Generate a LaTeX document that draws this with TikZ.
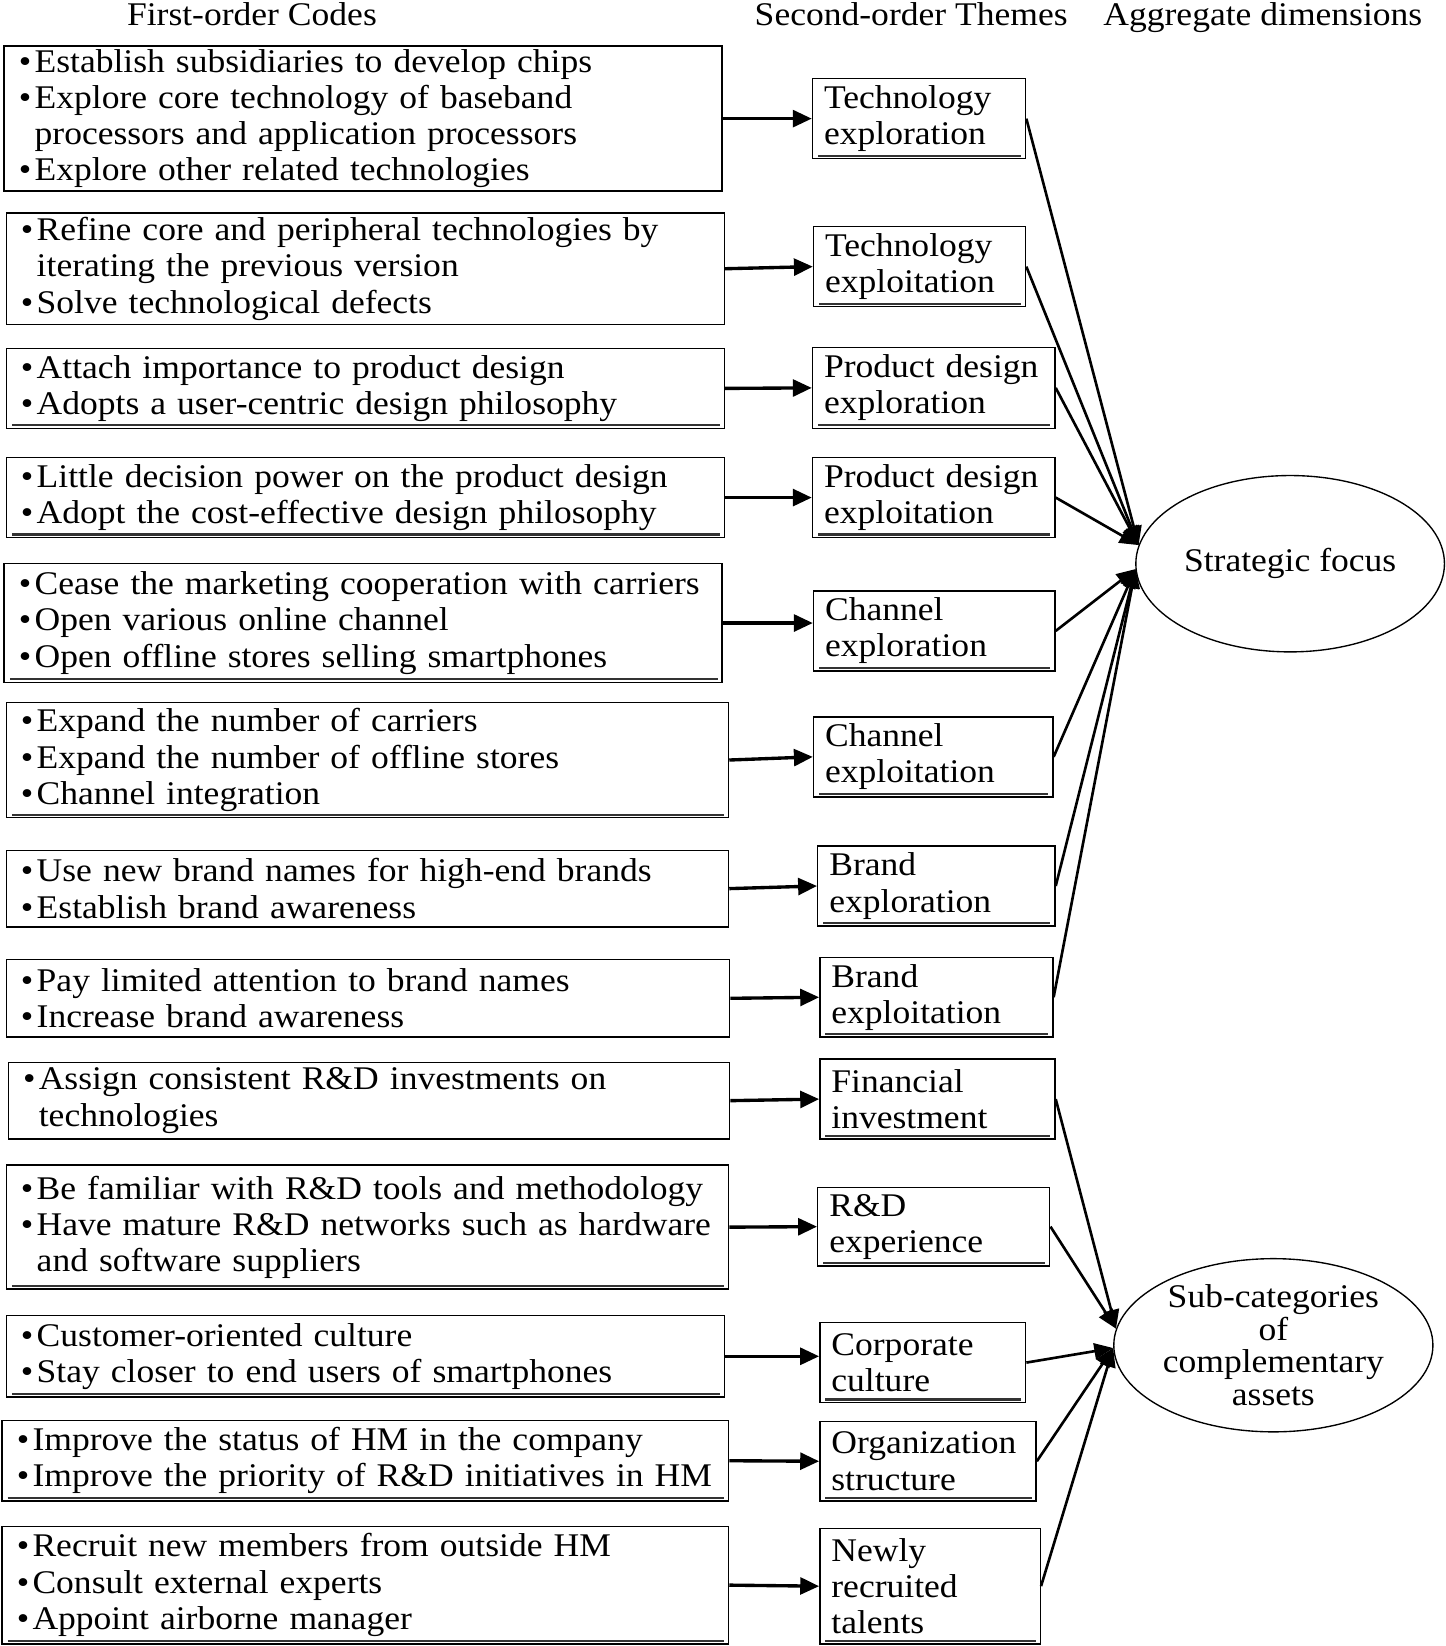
\documentclass[tikz,border=0pt]{standalone}
\usepackage{fontspec}
\setmainfont{Liberation Serif}[FakeStretch=1.075]
\usetikzlibrary{arrows.meta,shapes.geometric}
\newcommand\tfont{\fontsize{31.5}{34.5}\selectfont}
\newcommand\bi[1]{\mbox{\makebox[15pt][l]{•}#1}}
\newcommand\ci[1]{\mbox{\hspace*{15pt}#1}}
\newcommand\boxnode[8]{%
  \pgfmathsetmacro\bxc{(#2+#4)/2}%
  \pgfmathsetmacro\byc{(#3+#5)/2}%
  \pgfmathsetmacro\bw{#4-#2}%
  \pgfmathsetmacro\bh{#5-#3}%
  \pgfmathsetmacro\btw{#4-#2-2*#6}%
  \node[#7, inner xsep=#6pt, minimum width=\bw pt, minimum height=\bh pt, text width=\btw pt] (#1) at (\bxc,\byc) {#8};}
\newcommand\uline[1]{\draw[inl] ([xshift=6pt,yshift=3.5pt]#1.south west) -- ([xshift=-5pt,yshift=3.5pt]#1.south east);}
\tikzset{
 bx/.style={draw, line width=1.4pt, inner ysep=0pt, align=left, font=\tfont},
 ell/.style={draw, ellipse, line width=1.3pt, inner sep=0pt, align=center, font=\tfont},
 inl/.style={line width=2pt, black!80},
 lar/.style={line width=3.2pt, -{Triangle[length=18pt,width=16pt]}},
 rar/.style={line width=2.5pt, -{Triangle[length=18pt,width=15pt]}},
 hdr/.style={font=\tfont, anchor=base, inner sep=0pt},
}
\begin{document}
\begin{tikzpicture}[x=1pt,y=-1pt]
\useasboundingbox (0,0) rectangle (1377,1568);
% headers
\node[hdr] (h1) at (240,24) {First-order Codes};
\node[hdr] (h2) at (868,24) {Second-order Themes};
\node[hdr] (h3) at (1203,24) {Aggregate dimensions};
% first-order boxes
\boxnode{l1}{4}{44}{688}{182}{14}{bx}{\bi{Establish subsidiaries to develop chips}\\\bi{Explore core technology of baseband}\\\ci{processors and application processors}\\\bi{Explore other related technologies}}
\boxnode{l2}{6}{203}{690}{309}{14}{bx}{\bi{Refine core and peripheral technologies by}\\\ci{iterating the previous version}\\\bi{Solve technological defects}}
\boxnode{l3}{6}{332}{690}{408}{14}{bx}{\bi{Attach importance to product design}\\\bi{Adopts a user-centric design philosophy}}
\boxnode{l4}{6}{436}{690}{512}{14}{bx}{\bi{Little decision power on the product design}\\\bi{Adopt the cost-effective design philosophy}}
\boxnode{l5}{4}{537}{688}{650}{14}{bx}{\bi{Cease the marketing cooperation with carriers}\\\bi{Open various online channel}\\\bi{Open offline stores selling smartphones}}
\boxnode{l6}{6}{669}{694}{779}{14}{bx}{\bi{Expand the number of carriers}\\\bi{Expand the number of offline stores}\\\bi{Channel integration}}
\boxnode{l7}{6}{810}{694}{883}{14}{bx}{\bi{Use new brand names for high-end brands}\\\bi{Establish brand awareness}}
\boxnode{l8}{6}{914}{695}{988}{14}{bx}{\bi{Pay limited attention to brand names}\\\bi{Increase brand awareness}}
\boxnode{l9}{8}{1012}{695}{1085}{14}{bx}{\bi{Assign consistent R\&D investments on}\\\ci{technologies}}
\boxnode{l10}{6}{1110}{694}{1228}{14}{bx}{\bi{Be familiar with R\&D tools and methodology}\\\bi{Have mature R\&D networks such as hardware}\\\ci{and software suppliers}}
\boxnode{l11}{6}{1253}{690}{1331}{14}{bx}{\bi{Customer-oriented culture}\\\bi{Stay closer to end users of smartphones}}
\boxnode{l12}{2}{1353}{694}{1430}{14}{bx}{\bi{Improve the status of HM in the company}\\\bi{Improve the priority of R\&D initiatives in HM}}
\boxnode{l13}{2}{1454}{694}{1566}{14}{bx}{\bi{Recruit new members from outside HM}\\\bi{Consult external experts}\\\bi{Appoint airborne manager}}
\foreach \n in {l3,l4,l5,l6,l10,l11,l12,l13}{\uline{\n}}
% second-order boxes
\boxnode{m1}{774}{75}{977}{151}{11}{bx}{Technology\\exploration}
\boxnode{m2}{775}{216}{977}{292}{11}{bx}{Technology\\exploitation}
\boxnode{m3}{774}{331}{1005}{408}{11}{bx}{\mbox{Product design}\\exploration}
\boxnode{m4}{774}{436}{1005}{512}{11}{bx}{\mbox{Product design}\\exploitation}
\boxnode{m5}{775}{563}{1005}{639}{11}{bx}{Channel\\exploration}
\boxnode{m6}{775}{683}{1003}{759}{11}{bx}{Channel\\exploitation}
\boxnode{m7}{779}{806}{1005}{882}{11}{bx}{Brand\\exploration}
\boxnode{m8}{781}{912}{1003}{988}{11}{bx}{Brand\\exploitation}
\boxnode{m9}{781}{1009}{1005}{1085}{11}{bx}{Financial\\investment}
\boxnode{m10}{779}{1131}{1000}{1206}{11}{bx}{R\&D\\experience}
\boxnode{m11}{781}{1260}{977}{1336}{11}{bx}{Corporate\\culture}
\boxnode{m12}{781}{1354}{987}{1430}{11}{bx}{Organization\\structure}
\boxnode{m13}{781}{1456}{991}{1566}{11}{bx}{Newly\\recruited\\talents}
\foreach \n in {m1,m2,m3,m4,m5,m6,m7,m8,m9,m10,m11,m12,m13}{\uline{\n}}
% aggregate dimensions
\node[ell, minimum width=294pt, minimum height=168pt] (sf) at (1229,537) {Strategic focus};
\node[ell, minimum width=304pt, minimum height=165pt, font=\fontsize{31.5}{31}\selectfont] (sc) at (1213,1281.5) {Sub-categories\\of\\complementary\\assets};
% arrows first -> second
\foreach \i in {1,2,3,4,6,7,8,9,10,12,13}{\draw[lar] (l\i.east) -- (m\i.west);}
\draw[lar] (l5.east) -- (l5.east -| m5.west);
\draw[lar] (l11.east) -- (l11.east -| m11.west);
% arrows second -> aggregate
\foreach \i in {1,2,3,4}{\draw[rar] (m\i.east) -- (sf.173);}
\foreach \i in {5,6,7,8}{\draw[rar] (m\i.east) -- (sf.182);}
\foreach \i in {9,10}{\draw[rar] (m\i.east) -- (sc.174);}
\foreach \i in {11,12,13}{\draw[rar] (m\i.east) -- (sc.181);}
\end{tikzpicture}
\end{document}
